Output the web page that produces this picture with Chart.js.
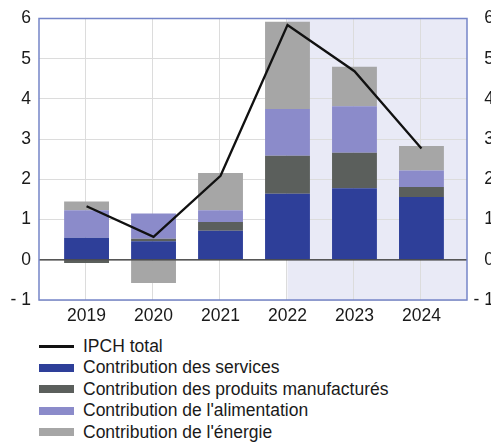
<!DOCTYPE html>
<html>
<head>
<meta charset="utf-8">
<script src="https://cdn.jsdelivr.net/npm/chart.js@4"></script>
<style>
  body { margin: 0; overflow: hidden; background: #fff; width: 491px; height: 443px; position: relative; }
  #zone { position: absolute; left: 0; top: 0; width: 494px; height: 330px; }
  #legende { position: absolute; left: 39px; top: 335.5px; font-family: "Liberation Sans", Arial, sans-serif; font-size: 17.5px; color: #1a1a1a; }
  .ligne { display: flex; align-items: center; height: 21.5px; }
  .marque { width: 35px; margin-right: 9px; }
</style>
</head>
<body>
<div id="zone"><canvas id="graphique" width="494" height="330"></canvas></div>
<div id="legende"></div>
<script>
// Données
const annees = ['2019', '2020', '2021', '2022', '2023', '2024'];
const ipchTotal = [1.33, 0.57, 2.09, 5.84, 4.69, 2.77];
const services = [0.55, 0.46, 0.72, 1.64, 1.78, 1.56];
const manufactures = [-0.08, 0.06, 0.22, 0.95, 0.88, 0.25];
const alimentation = [0.68, 0.63, 0.29, 1.16, 1.16, 0.41];
const energie = [0.22, -0.58, 0.93, 2.17, 0.98, 0.61];
const graduationsY = [-1, 0, 1, 2, 3, 4, 5, 6];
const debutProjection = 3; // index de 2022

const police = { family: '"Liberation Sans", Arial, sans-serif', size: 17.5 };
const couleurTexte = '#1a1a1a';
const xMin = -0.71, xMax = 5.68;

// Convertit une série en points {x, y}
function points(serie) {
  return serie.map((v, i) => ({ x: i, y: v }));
}

function libelleY(v) {
  return v < 0 ? '- ' + Math.abs(v) : String(v);
}

// Fond grisé, zéro et cadre
const decor = {
  id: 'decor',
  beforeDraw(chart) {
    const { ctx, chartArea, scales } = chart;
    const x0 = scales.x.getPixelForValue(debutProjection);
    ctx.save();
    ctx.fillStyle = '#e9eaf6';
    ctx.fillRect(x0, chartArea.top, chartArea.right - x0, chartArea.bottom - chartArea.top);
    ctx.restore();
  },
  afterDatasetsDraw(chart) {
    const { ctx, chartArea, scales } = chart;
    const y0 = scales.y.getPixelForValue(0);
    ctx.save();
    ctx.strokeStyle = '#2a2a2a';
    ctx.lineWidth = 1.3;
    ctx.beginPath();
    ctx.moveTo(chartArea.left, y0);
    ctx.lineTo(chartArea.right, y0);
    ctx.stroke();
    ctx.strokeStyle = '#7585c8';
    ctx.lineWidth = 1.5;
    ctx.strokeRect(chartArea.left, chartArea.top, chartArea.right - chartArea.left, chartArea.bottom - chartArea.top);
    ctx.restore();
  }
};

const barres = { categoryPercentage: 1, barPercentage: 0.67, borderWidth: 0, stack: 'barres', order: 1 };

const chart = new Chart(document.getElementById('graphique'), {
  type: 'bar',
  data: {
    datasets: [
      { type: 'line', label: 'IPCH total', data: points(ipchTotal), borderColor: '#111', backgroundColor: '#111',
        borderWidth: 2.3, pointRadius: 0, tension: 0, stack: 'ligne', order: 0 },
      { label: 'Contribution des services', data: points(services), backgroundColor: '#2e3f99', ...barres },
      { label: 'Contribution des produits manufacturés', data: points(manufactures), backgroundColor: '#5b5f5c', ...barres },
      { label: "Contribution de l'alimentation", data: points(alimentation), backgroundColor: '#8b8bca', ...barres },
      { label: "Contribution de l'énergie", data: points(energie), backgroundColor: '#a6a6a6', ...barres }
    ]
  },
  options: {
    responsive: false,
    animation: false,
    layout: { padding: { top: 15, left: 0, right: 0, bottom: 0 } },
    plugins: { legend: { display: false }, tooltip: { enabled: false } },
    scales: {
      x: {
        type: 'linear',
        stacked: true,
        offset: false,
        min: xMin,
        max: xMax,
        afterBuildTicks(scale) { scale.ticks = annees.map((a, i) => ({ value: i })); },
        afterFit(scale) { scale.height = 30; },
        grid: { display: false, drawTicks: false },
        border: { display: false },
        ticks: {
          autoSkip: false,
          maxRotation: 0,
          padding: 6,
          color: couleurTexte,
          font: police,
          callback: v => annees[v]
        }
      },
      // axe sans libellés, seulement pour les séparations verticales
      xg: {
        type: 'linear',
        position: 'bottom',
        offset: false,
        min: xMin,
        max: xMax,
        afterBuildTicks(scale) { scale.ticks = annees.slice(1).map((a, i) => ({ value: i + 0.48 })); },
        afterFit(scale) { scale.height = 0; },
        grid: { color: '#dcdcdc', drawTicks: false },
        border: { display: false },
        ticks: { display: false }
      },
      y: {
        stacked: true,
        position: 'left',
        min: -1,
        max: 6,
        afterBuildTicks(scale) { scale.ticks = graduationsY.map(v => ({ value: v })); },
        afterFit(scale) { scale.width = 39; },
        grid: { color: '#dcdcdc', drawTicks: false },
        border: { display: false },
        ticks: { padding: 8, color: couleurTexte, font: police, callback: libelleY }
      },
      y2: {
        display: true,
        position: 'right',
        min: -1,
        max: 6,
        afterBuildTicks(scale) { scale.ticks = graduationsY.map(v => ({ value: v })); },
        afterFit(scale) { scale.width = 27; },
        grid: { display: false, drawTicks: false },
        border: { display: false },
        ticks: { padding: 7, crossAlign: 'far', color: couleurTexte, font: police, callback: libelleY }
      }
    }
  },
  plugins: [decor]
});

// Légende construite à partir des séries
const legende = document.getElementById('legende');
chart.data.datasets.forEach(ds => {
  const ligne = document.createElement('div');
  ligne.className = 'ligne';
  const marque = document.createElement('span');
  marque.className = 'marque';
  if (ds.type === 'line') {
    marque.style.height = '2.5px';
    marque.style.background = ds.borderColor;
  } else {
    marque.style.height = '8px';
    marque.style.background = ds.backgroundColor;
  }
  const texte = document.createElement('span');
  texte.textContent = ds.label;
  ligne.appendChild(marque);
  ligne.appendChild(texte);
  legende.appendChild(ligne);
});
</script>
</body>
</html>
